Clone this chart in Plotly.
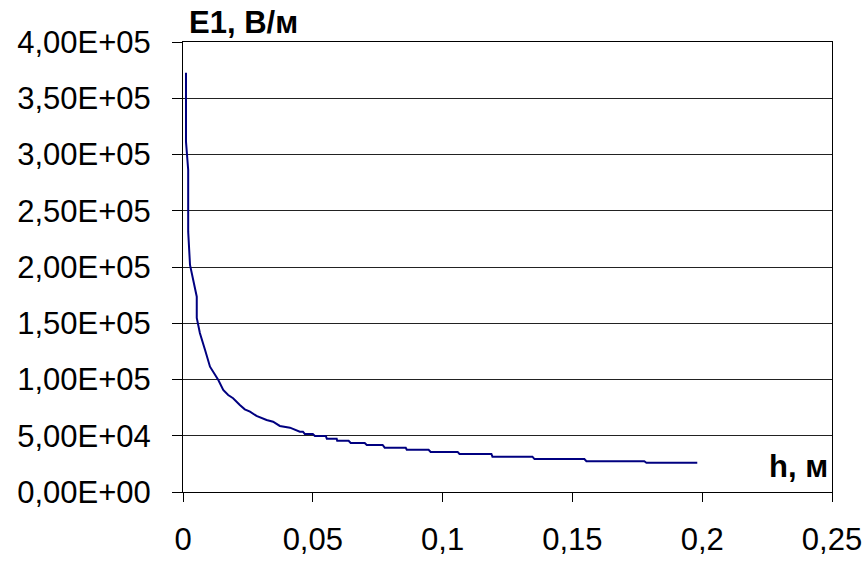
import plotly.graph_objects as go

# h, m
h_vals = [0.00115, 0.00115, 0.0020, 0.0020, 0.0027, 0.0053, 0.0053, 0.0065, 0.0085,
          0.0104, 0.0136, 0.0155, 0.0174, 0.0193, 0.0219, 0.0238, 0.0258, 0.0283,
          0.0322, 0.0347, 0.0373, 0.0412,
          0.0450, 0.0462, 0.0469, 0.0500, 0.0508, 0.0550, 0.0554, 0.0592, 0.0594, 0.0638,
          0.0646, 0.0700, 0.0708, 0.0769, 0.0777, 0.0858, 0.0862, 0.0946, 0.0954, 0.1058,
          0.1065, 0.1188, 0.1192, 0.1346, 0.1354, 0.1546, 0.1554, 0.1777, 0.1785, 0.1981]
# E1, V/m
e_vals = [372700, 311400, 286200, 231400, 201800, 173600, 154700, 141300, 126200,
          111400, 99600, 90700, 86200, 83300, 77300, 73500, 71400, 67600,
          64000, 62500, 58700, 57200,
          53600, 53600, 51600, 51600, 49800, 49800, 47400, 47400, 45600, 45600,
          43600, 43600, 41800, 41800, 39400, 39400, 37600, 37600, 35600, 35600,
          33800, 33800, 31400, 31400, 29300, 29300, 27300, 27300, 26000, 26000]

x_ticks = [0, 0.05, 0.1, 0.15, 0.2, 0.25]
x_tick_text = ["0", "0,05", "0,1", "0,15", "0,2", "0,25"]
y_ticks = [0, 50000, 100000, 150000, 200000, 250000, 300000, 350000, 400000]
y_tick_text = ["0,00E+00", "5,00E+04", "1,00E+05", "1,50E+05", "2,00E+05",
               "2,50E+05", "3,00E+05", "3,50E+05", "4,00E+05"]

FONT = "Arial, Liberation Sans, sans-serif"

fig = go.Figure()
fig.add_trace(go.Scatter(x=h_vals, y=e_vals, mode="lines",
                         line=dict(color="#000080", width=2), showlegend=False))

fig.update_layout(
    width=865, height=562,
    margin=dict(l=183, r=33, t=42, b=70, autoexpand=False),
    paper_bgcolor="white", plot_bgcolor="white",
    font=dict(family=FONT, size=31, color="black"),
    xaxis=dict(range=[0, 0.25], tickvals=x_ticks, ticktext=x_tick_text,
               showgrid=False, zeroline=False, showline=True, linecolor="black",
               linewidth=1, mirror=True, ticks="outside", ticklen=9, tickcolor="black",
               ticklabelstandoff=11, tickfont=dict(size=31), automargin=False),
    yaxis=dict(range=[0, 400000], tickvals=y_ticks, ticktext=y_tick_text,
               showgrid=True, gridcolor="#222222", gridwidth=1, zeroline=False,
               showline=True, linecolor="black", linewidth=1, mirror=True,
               ticks="outside", ticklen=10, tickcolor="black",
               ticklabelstandoff=15, tickfont=dict(size=31), automargin=False),
    annotations=[
        dict(text="<b>E1, В/м</b>", xref="paper", yref="paper", x=0.0, y=1.0,
             xshift=4, yshift=0, xanchor="left", yanchor="bottom", showarrow=False,
             font=dict(size=31, family=FONT)),
        dict(text="<b>h, м</b>", xref="paper", yref="paper", x=1.0, y=0.0,
             xshift=-2, yshift=6, xanchor="right", yanchor="bottom", showarrow=False,
             font=dict(size=31, family=FONT)),
    ],
)

fig.write_html("out.html")
